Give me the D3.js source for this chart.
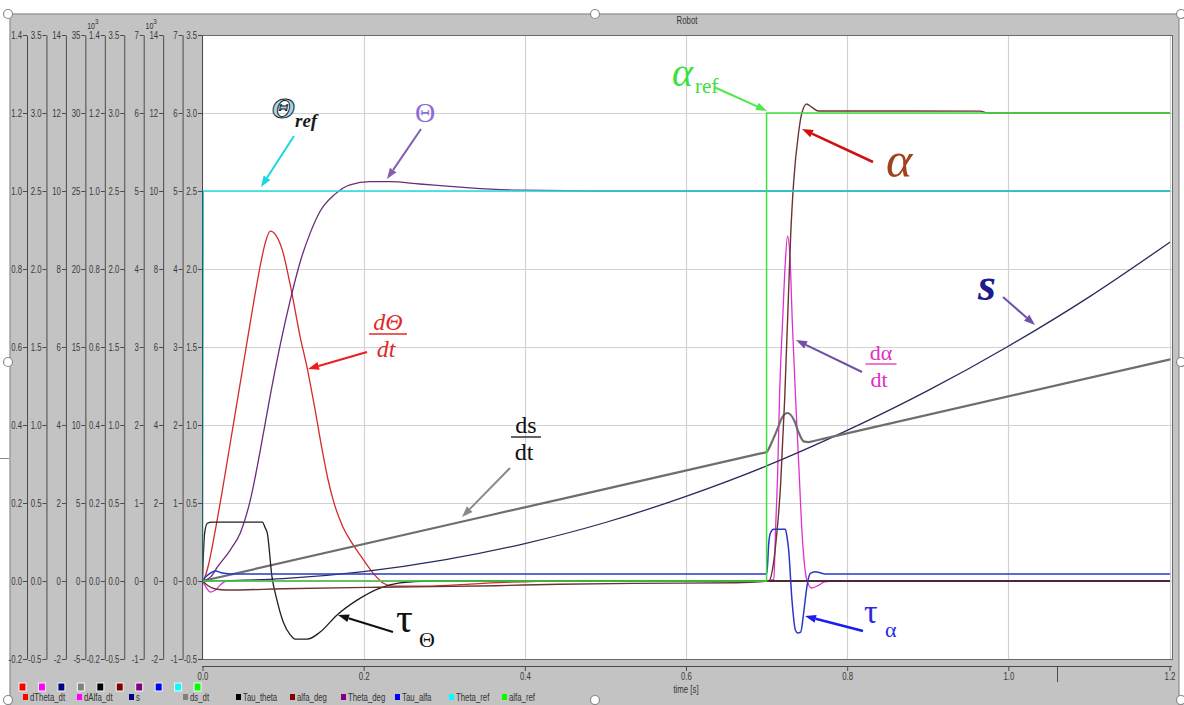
<!DOCTYPE html>
<html>
<head>
<meta charset="utf-8">
<script src="https://cdn.jsdelivr.net/npm/d3@7"></script>
<style>
  body { margin: 0; background: #ffffff; }
  svg { display: block; }
  .tick text, .lbl { font-family: "Liberation Sans", "Arial", sans-serif; }
</style>
</head>
<body>
<svg id="chart" width="1184" height="705"></svg>
<script>
// ---------- data ----------
const timeTicks = [0, 0.2, 0.4, 0.6, 0.8, 1.0, 1.2];

const seriesNames  = ["dTheta_dt", "dAlfa_dt", "s", "ds_dt", "Tau_theta", "alfa_deg", "Theta_deg", "Tau_alfa", "Theta_ref", "alfa_ref"];
const legendColors = ["#ff0000", "#ff00ff", "#000080", "#808080", "#000000", "#800000", "#800080", "#0000ff", "#00ffff", "#00ff00"];
const lineColors   = ["#d42a2a", "#e030d0", "#2a2a5c", "#6e6e6e", "#1e1e1e", "#6a3434", "#6a2c7a", "#2838c8", "#22dede", "#3ee03e"];
const lineWidths   = [1.3, 1.3, 1.3, 2.2, 1.3, 1.4, 1.3, 1.5, 1.5, 1.5];

// one vertical axis per series: top value, tick step, decimals, exponent marker
const axisMax      = [1.4, 3.5, 14, 35, 1.4, 3.5, 7, 14, 7, 3.5];
const axisStep     = [0.2, 0.5, 2, 5, 0.2, 0.5, 1, 2, 1, 0.5];
const axisDecimals = [1, 1, 0, 0, 1, 1, 0, 0, 0, 1];
const axisExponent = [null, null, null, null, 3, null, null, 3, null, null];

// [time s, value]
const dTheta_dt = [[0,0],[0.0025,0.008],[0.0074,0.041],[0.0148,0.118],[0.0247,0.233],[0.0371,0.387],[0.0495,0.541],
  [0.0619,0.695],[0.0718,0.810],[0.0779,0.867],[0.0841,0.897],[0.0915,0.885],[0.099,0.849],[0.1089,0.759],
  [0.1212,0.626],[0.1299,0.546],[0.1398,0.438],[0.1485,0.336],[0.1559,0.259],[0.1621,0.208],[0.1744,0.138],
  [0.1856,0.097],[0.1955,0.067],[0.2115,0.021],[0.2239,-0.005],[0.2363,-0.013],[0.2821,-0.013],[0.3315,-0.008],
  [0.381,-0.003],[0.443,0],[1.2,0]];

const dAlfa_dt = [[0,0],[0.005,-0.045],[0.01,-0.071],[0.016,-0.058],[0.022,-0.026],[0.03,0],[0.700,0],[0.705,0.006],
  [0.709,0.01],[0.711,0.31],[0.714,0.74],[0.716,1.17],[0.720,1.68],[0.723,2.02],[0.726,2.21],[0.729,2.08],
  [0.732,1.65],[0.736,1.17],[0.740,0.74],[0.744,0.31],[0.750,0.006],[0.756,-0.045],[0.765,-0.026],[0.772,-0.006],
  [0.783,0],[1.2,0]];

const s = [[0,0],[0.1,0.06],[0.2,0.24],[0.3,0.54],[0.4,0.96],[0.5,1.5],[0.6,2.17],[0.7,2.95],[0.8,3.86],
  [0.9,4.88],[1.0,6.02],[1.1,7.28],[1.2,8.68]];

const ds_dt = [[0,0],[0.35,4.135],[0.69,8.15],[0.700,8.27],[0.706,8.85],[0.713,9.68],[0.719,10.45],[0.726,10.77],
  [0.734,10.32],[0.740,9.49],[0.746,8.95],[0.752,8.90],[0.76,8.99],[0.77,9.11],[1.2,14.2]];

const Tau_theta = [[0,0],[0.0025,0.12],[0.006,0.148],[0.012,0.151],[0.0742,0.151],[0.0779,0.136],[0.0804,0.123],
  [0.0862,0.011],[0.0924,-0.049],[0.1002,-0.105],[0.1089,-0.138],[0.1150,-0.149],[0.1299,-0.149],[0.146,-0.131],
  [0.167,-0.087],[0.1918,-0.049],[0.2202,-0.018],[0.2449,-0.005],[0.2821,0],[1.2,0]];

const alfa_deg = [[0,0],[0.0074,-0.032],[0.0161,-0.051],[0.03,-0.058],[0.1,-0.05],[0.22,-0.04],[0.365,-0.03],
  [0.443,-0.021],[0.538,-0.015],[0.662,-0.011],[0.7027,0],[0.7088,0.122],[0.7125,0.295],[0.7175,0.628],
  [0.72,0.904],[0.7224,1.16],[0.7249,1.513],[0.7274,1.865],[0.7299,2.218],[0.7336,2.558],[0.7398,2.878],
  [0.7435,2.994],[0.7497,3.058],[0.7559,3.038],[0.7645,3.013],[0.965,3.012],[0.975,3.0],[1.2,3.0]];

const Theta_deg = [[0,0],[0.0099,0.05],[0.0186,0.18],[0.0346,0.40],[0.047,0.62],[0.0594,1.04],[0.0718,1.68],
  [0.0841,2.38],[0.0965,3.03],[0.1089,3.60],[0.1212,4.09],[0.1336,4.46],[0.146,4.74],[0.1645,4.96],
  [0.1831,5.08],[0.2078,5.12],[0.2326,5.12],[0.2697,5.09],[0.3068,5.06],[0.3315,5.04],[0.393,5.01],
  [0.5,5.0],[1.2,5.0]];

const Tau_alfa = [[0,0],[0.005,0.128],[0.0099,0.204],[0.0161,0.256],[0.0247,0.204],[0.0383,0.18],[0.7003,0.18],
  [0.7027,0.976],[0.7048,1.232],[0.7088,1.324],[0.7233,1.324],[0.7253,1.136],[0.7274,0.796],[0.7315,-0.488],
  [0.7357,-1.256],[0.7386,-1.332],[0.7423,-1.308],[0.746,-0.82],[0.75,-0.148],[0.7543,0.196],[0.7604,0.24],
  [0.7686,0.196],[0.7744,0.18],[1.2,0.18]];

const Theta_ref = [[0,0],[0.001,5],[1.2,5]];
const alfa_ref  = [[0,0],[0.7,0],[0.7,3],[1.2,3]];

const seriesData = [dTheta_dt, dAlfa_dt, s, ds_dt, Tau_theta, alfa_deg, Theta_deg, Tau_alfa, Theta_ref, alfa_ref];
const stepSeries = [false, false, false, false, false, false, false, false, true, true];

// ---------- layout ----------
const plot = { left: 202, right: 1172, top: 35, bottom: 659 };
const axisX = d3.range(10).map(i => 27 + i * 19.45);
const NARROW = 0.78;   // horizontal squeeze for the small condensed labels
const svg = d3.select("#chart");

function smallText(x0, y0, str, opts = {}) {
  return svg.append("text").attr("class", "lbl")
    .attr("transform", `translate(${x0},${y0}) scale(${NARROW},1)`)
    .attr("font-size", opts.size || 10).attr("fill", opts.fill || "#333")
    .attr("text-anchor", opts.anchor || "start").text(str);
}

// window panel
svg.append("rect").attr("x", 10).attr("y", 14).attr("width", 1169).attr("height", 700)
  .attr("fill", "#c3c3c3").attr("stroke", "#8c8c8c").attr("stroke-width", 1.2);
svg.append("line").attr("x1", 0).attr("x2", 9).attr("y1", 458.5).attr("y2", 458.5).attr("stroke", "#8c8c8c");

smallText(687, 24, "Robot", { anchor: "middle" });

// plot area
svg.append("rect").attr("x", plot.left).attr("y", plot.top)
  .attr("width", plot.right - plot.left).attr("height", plot.bottom - plot.top)
  .attr("fill", "#ffffff");

const x = d3.scaleLinear().domain([0, 1.2]).range([202.5, 1169.5]);
const yScales = axisMax.map(m => d3.scaleLinear().domain([-m / 7, m]).range([plot.bottom, plot.top]));
const tickSets = axisMax.map((m, i) => d3.range(-1, 8).map(k => +(k * axisStep[i]).toFixed(3)));

// grid
const grid = svg.append("g").attr("stroke", "#d2d2d2").attr("stroke-width", 1.2);
tickSets[9].forEach(v => {
  const yy = Math.round(yScales[9](v)) + 0.5;
  grid.append("line").attr("x1", plot.left).attr("x2", plot.right).attr("y1", yy).attr("y2", yy);
});
timeTicks.slice(1).forEach(t => {
  const xx = Math.round(x(t)) + 0.5;
  grid.append("line").attr("x1", xx).attr("x2", xx).attr("y1", plot.top).attr("y2", plot.bottom);
});

// plot frame
svg.append("rect").attr("x", plot.left + 0.5).attr("y", plot.top + 0.5)
  .attr("width", plot.right - plot.left).attr("height", plot.bottom - plot.top)
  .attr("fill", "none").attr("stroke", "#6a6a6a").attr("stroke-width", 1);

// series
svg.append("defs").append("clipPath").attr("id", "plotClip").append("rect")
  .attr("x", plot.left).attr("y", plot.top).attr("width", plot.right - plot.left).attr("height", plot.bottom - plot.top);
const lines = svg.append("g").attr("clip-path", "url(#plotClip)").attr("fill", "none")
  .attr("stroke-linejoin", "round").attr("stroke-linecap", "round");
seriesData.forEach((data, i) => {
  const gen = d3.line().x(d => x(d[0])).y(d => yScales[i](d[1]))
    .curve(stepSeries[i] ? d3.curveLinear : d3.curveMonotoneX);
  lines.append("path").attr("d", gen(data)).attr("stroke", lineColors[i]).attr("stroke-width", lineWidths[i]);
});

// left value axes
axisX.forEach((ax, i) => {
  const g = svg.append("g").attr("transform", `translate(${ax},0)`)
    .call(d3.axisLeft(yScales[i]).tickValues(tickSets[i]).tickSize(4).tickSizeOuter(0).tickPadding(1)
      .tickFormat(v => v.toFixed(axisDecimals[i])));
  g.select(".domain").attr("stroke", "#4a4a4a");
  g.selectAll(".tick line").attr("stroke", "#4a4a4a");
  g.selectAll(".tick text").attr("font-size", 10).attr("fill", "#3a3a3a")
    .attr("x", -5 / NARROW).attr("transform", `scale(${NARROW},1)`);
  if (axisExponent[i]) {
    const t = smallText(ax - 12, 29, "", { size: 9, anchor: "middle" });
    t.append("tspan").text("10");
    t.append("tspan").attr("font-size", 8).attr("dy", -5).text(String(axisExponent[i]));
  }
});

// time axis
const xg = svg.append("g").attr("transform", "translate(0,666)")
  .call(d3.axisBottom(x).tickValues(timeTicks).tickSize(5).tickSizeOuter(0).tickPadding(2)
    .tickFormat(d => d.toFixed(1)));
xg.select(".domain").attr("stroke", "#4a4a4a").attr("d", `M${plot.left},0.5H${plot.right}`);
xg.selectAll(".tick line").attr("stroke", "#4a4a4a");
xg.selectAll(".tick text").attr("font-size", 10).attr("fill", "#3a3a3a").attr("transform", `scale(${NARROW},1)`);
svg.append("line").attr("x1", Math.round(x(1.06)) + 0.5).attr("x2", Math.round(x(1.06)) + 0.5)
  .attr("y1", 667).attr("y2", 682).attr("stroke", "#4a4a4a");
smallText(x(0.6), 693, "time [s]", { anchor: "middle" });

// legend: swatch row under the axes, then the labelled row
axisX.forEach((ax, i) => {
  svg.append("rect").attr("x", ax - 8).attr("y", 683).attr("width", 7).attr("height", 8)
    .attr("fill", legendColors[i]).attr("stroke", "#f4f4f4").attr("stroke-width", 1);
});
const legendX = [26, 80, 132, 186, 239, 293, 344, 398, 452, 505];
seriesNames.forEach((name, i) => {
  svg.append("rect").attr("x", legendX[i] - 3).attr("y", 694).attr("width", 5).attr("height", 6)
    .attr("fill", legendColors[i]);
  smallText(legendX[i] + 4, 701, name);
});

// window handles
[[8, 14], [595, 14], [1181, 14], [8, 362], [1181, 362], [8, 700], [595, 700], [1181, 700]].forEach(p => {
  svg.append("circle").attr("cx", p[0]).attr("cy", p[1]).attr("r", 4.5)
    .attr("fill", "#ffffff").attr("stroke", "#8a8a8a").attr("stroke-width", 1.2);
});

// ---------- annotations ----------
function arrow(x1, y1, x2, y2, color, w) {
  const a = Math.atan2(y2 - y1, x2 - x1), L = 11, hw = 4;
  const bx = x2 - L * Math.cos(a), by = y2 - L * Math.sin(a);
  svg.append("line").attr("x1", x1).attr("y1", y1).attr("x2", bx).attr("y2", by)
    .attr("stroke", color).attr("stroke-width", w);
  svg.append("path").attr("fill", color)
    .attr("d", `M${x2},${y2}L${bx + hw * Math.sin(a)},${by - hw * Math.cos(a)}L${bx - hw * Math.sin(a)},${by + hw * Math.cos(a)}Z`);
}
function txt(x0, y0, str, size, color, opts = {}) {
  return svg.append("text").attr("x", x0).attr("y", y0).attr("font-size", size).attr("fill", color)
    .attr("font-family", "'Liberation Serif', 'DejaVu Serif', serif")
    .attr("font-style", opts.italic ? "italic" : "normal")
    .attr("font-weight", opts.bold ? "bold" : "normal")
    .attr("text-anchor", opts.anchor || "start")
    .text(str);
}
function fraction(cx, yTop, top, bottom, size, color, italic, barW) {
  txt(cx, yTop, top, size, color, { italic, anchor: "middle" });
  svg.append("line").attr("x1", cx - barW / 2).attr("x2", cx + barW / 2)
    .attr("y1", yTop + 4).attr("y2", yTop + 4).attr("stroke", color).attr("stroke-width", 1.3);
  txt(cx - 2, yTop + 27, bottom, size, color, { italic, anchor: "middle" });
}

// Θref
txt(272, 118, "Θ", 30, "#9fd6f0", { italic: true, bold: true }).attr("stroke", "#1a1a1a").attr("stroke-width", 1);
txt(295, 127, "ref", 19, "#1a1a1a", { italic: true, bold: true });
arrow(294, 136, 261, 187, "#18d8e0", 2);

// Θ
txt(425, 122, "Θ", 28, "#8a6fd6", { anchor: "middle" });
arrow(421, 129, 387, 179, "#8060b0", 2);

// dΘ/dt
fraction(388, 330, "dΘ", "dt", 24, "#e02a2a", true, 38);
arrow(367, 352, 308, 369, "#ee1c1c", 2);

// ds/dt
fraction(526, 433, "ds", "dt", 24, "#111111", false, 30);
arrow(510, 468, 462, 517, "#8a8a8a", 2);

// τΘ
txt(396, 632, "τ", 42, "#111111");
txt(419, 647, "Θ", 22, "#111111");
arrow(393, 632, 338, 615, "#111111", 2);

// αref
txt(672, 86, "α", 40, "#3ee03e", { italic: true });
txt(695, 93, "ref", 21, "#3ee03e");
arrow(714, 87, 767, 111, "#4ee84e", 2);

// α
txt(886, 177, "α", 50, "#a0431c", { italic: true });
arrow(873, 162, 802, 129, "#d01010", 2.5);

// s
txt(978, 300, "s", 46, "#1c1c8a", { italic: true, bold: true });
arrow(1003, 297, 1035, 325, "#7050a8", 2);

// dα/dt
fraction(881, 360, "dα", "dt", 22, "#e030c0", false, 31);
arrow(862, 372, 796, 340, "#7050a8", 2);

// τα
txt(864, 623, "τ", 34, "#2b2bdc");
txt(885, 637, "α", 22, "#2b2bdc");
arrow(863, 631, 805, 616, "#1c1cf0", 2.5);
</script>
</body>
</html>
